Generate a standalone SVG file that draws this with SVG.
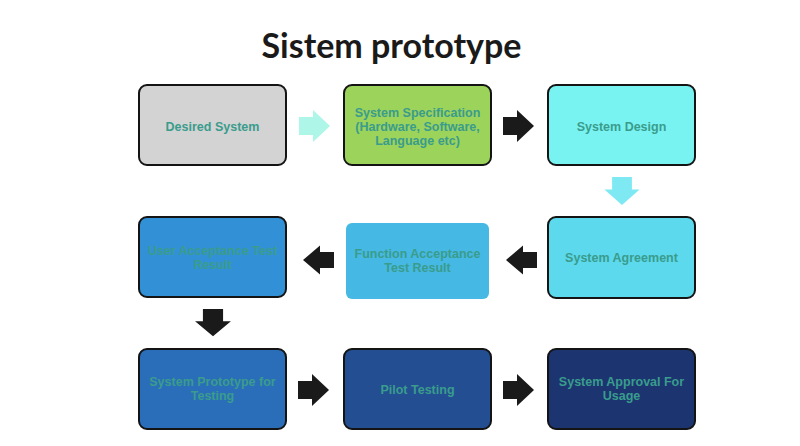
<svg xmlns="http://www.w3.org/2000/svg" xmlns:xlink="http://www.w3.org/1999/xlink" width="800" height="446" viewBox="0 0 800 446">
<style>
.box{stroke:#141414;stroke-width:2}
.lbl{font-family:"Liberation Sans",Arial,sans-serif;font-weight:bold;font-size:12.5px;fill:#3A9C8C;text-anchor:middle}
.title{font-family:Lato,"Open Sans",sans-serif;font-weight:bold;font-size:34px;fill:#1a1a1a;text-anchor:middle}
</style>
<defs>
<polygon id="ar" points="0,-9 14,-9 14,-16 31,0 14,16 14,9 0,9"/>
</defs>
<rect width="800" height="446" fill="#ffffff"/>
<text class="title" x="391.5" y="58">Sistem prototype</text>
<g id="n1"><rect class="box" x="139" y="85" width="147" height="80" rx="8" fill="#D3D3D3"/><text class="lbl" x="212.5" y="130.5">Desired System</text></g>
<g id="n2"><rect class="box" x="344" y="85" width="147" height="80" rx="8" fill="#9CD35B"/><text class="lbl" x="417.5" y="117">System Specification</text><text class="lbl" x="417.5" y="131">(Hardware, Software,</text><text class="lbl" x="417.5" y="145">Language etc)</text></g>
<g id="n3"><rect class="box" x="548" y="85" width="147" height="80" rx="8" fill="#79F3F2"/><text class="lbl" x="621.5" y="130.5">System Design</text></g>
<g id="n4"><rect class="box" x="548" y="217" width="147" height="81" rx="8" fill="#5CD9EC"/><text class="lbl" x="621.5" y="262">System Agreement</text></g>
<g id="n5"><rect x="346" y="223" width="143" height="76" rx="6" fill="#45B9E3"/><text class="lbl" x="417.5" y="258">Function Acceptance</text><text class="lbl" x="417.5" y="272">Test Result</text></g>
<g id="n6"><rect class="box" x="139" y="217" width="147" height="80" rx="8" fill="#3291D6"/><text class="lbl" x="212.5" y="255">User Acceptance Test</text><text class="lbl" x="212.5" y="269">Result</text></g>
<g id="n7"><rect class="box" x="139" y="349" width="147" height="80" rx="8" fill="#2A6EB9"/><text class="lbl" x="212.5" y="386">System Prototype for</text><text class="lbl" x="212.5" y="400">Testing</text></g>
<g id="n8"><rect class="box" x="344" y="349" width="147" height="80" rx="8" fill="#234F92"/><text class="lbl" x="417.5" y="393.5">Pilot Testing</text></g>
<g id="n9"><rect class="box" x="548" y="349" width="147" height="80" rx="8" fill="#1C3571"/><text class="lbl" x="621.5" y="386">System Approval For</text><text class="lbl" x="621.5" y="400">Usage</text></g>
<g id="connectors">
<use xlink:href="#ar" transform="translate(299,126)" fill="#AEF6E7"/>
<use xlink:href="#ar" transform="translate(503,126)" fill="#1a1a1a"/>
<use xlink:href="#ar" transform="translate(622,177) rotate(90) scale(0.9,1.1)" fill="#7FE9F3"/>
<use xlink:href="#ar" transform="translate(537,260) rotate(180) scale(1,0.9)" fill="#1a1a1a"/>
<use xlink:href="#ar" transform="translate(334,260) rotate(180) scale(1,0.9)" fill="#1a1a1a"/>
<use xlink:href="#ar" transform="translate(213,309) rotate(90) scale(0.88,1.12)" fill="#1a1a1a"/>
<use xlink:href="#ar" transform="translate(298,390)" fill="#1a1a1a"/>
<use xlink:href="#ar" transform="translate(503,390)" fill="#1a1a1a"/>
</g>
</svg>
